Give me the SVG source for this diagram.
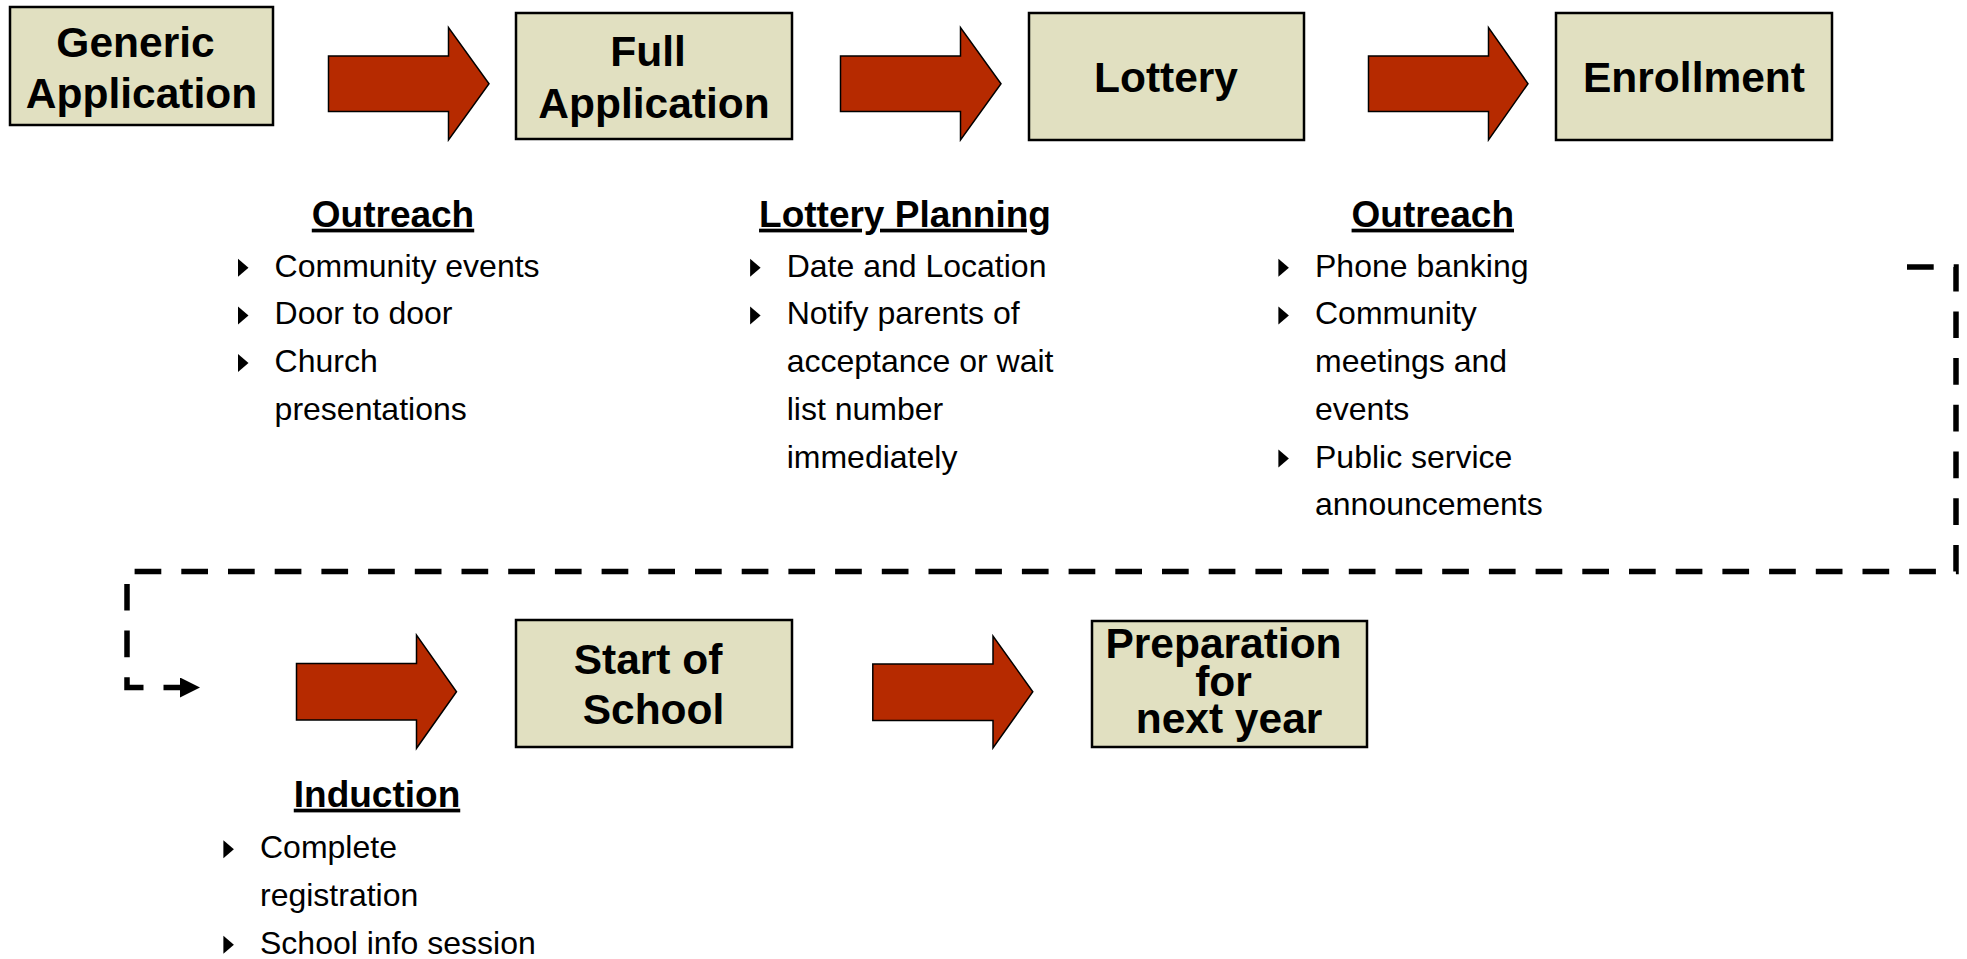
<svg xmlns="http://www.w3.org/2000/svg" width="1967" height="959" viewBox="0 0 1967 959">
  <style>
    .box { fill: #E1E0C1; stroke: #000; stroke-width: 2.5; }
    .arrow { fill: #B62A00; stroke: #000; stroke-width: 1.5; stroke-linejoin: miter; }
    .title { font-family: "Liberation Sans", Arial, sans-serif; font-weight: bold; font-size: 42.5px; fill: #000; text-anchor: middle; }
    .head { font-family: "Liberation Sans", Arial, sans-serif; font-weight: bold; font-size: 37px; fill: #000; text-anchor: middle; text-decoration: underline; }
    .item { font-family: "Liberation Sans", Arial, sans-serif; font-size: 32px; fill: #000; }
    .bullet { fill: #000; }
    .flow { fill: none; stroke: #000; stroke-width: 5.5; stroke-dasharray: 26.7 20; stroke-linejoin: miter; }
  </style>
  <defs>
    <marker id="head" markerUnits="userSpaceOnUse" markerWidth="20" markerHeight="20" refX="3" refY="10" orient="auto" viewBox="0 0 20 20">
      <path d="M0,0 L20,10 L0,20 z" fill="#000"/>
    </marker>
    <!-- list bullet, origin at the text baseline -->
    <polygon id="tri" points="-0.3,-18 10.2,-9 -0.3,0"/>
  </defs>

  <rect width="1967" height="959" fill="#fff"/>

  <!-- block arrows between the stages -->
  <g id="connectors">
    <polygon class="arrow" points="328.5,56 448.5,56 448.5,27.5 489,83.7 448.5,140 448.5,111.5 328.5,111.5"/>
    <polygon class="arrow" points="840.5,56 960.5,56 960.5,27.5 1001,83.7 960.5,140 960.5,111.5 840.5,111.5"/>
    <polygon class="arrow" points="1368.5,56 1488.5,56 1488.5,27.5 1528,83.7 1488.5,140 1488.5,111.5 1368.5,111.5"/>
    <polygon class="arrow" points="296.5,663.5 416.5,663.5 416.5,635 456.5,691.7 416.5,748.3 416.5,720 296.5,720"/>
    <polygon class="arrow" points="872.8,664 993,664 993,636 1032.8,691.7 993,748 993,720.5 872.8,720.5"/>
    <!-- dashed return path from the top row to the second row -->
    <path class="flow" d="M1907,267 H1956 V571.5 H127 V687.5 H183" marker-end="url(#head)"/>
  </g>

  <g id="generic-application">
    <rect class="box" x="10" y="7" width="263" height="118"/>
    <text class="title" x="135.5" y="57">Generic</text>
    <text class="title" x="141.5" y="108">Application</text>
  </g>

  <g id="full-application">
    <rect class="box" x="516" y="13" width="276" height="126"/>
    <text class="title" x="648" y="66">Full</text>
    <text class="title" x="654" y="118">Application</text>
  </g>

  <g id="lottery">
    <rect class="box" x="1029" y="13" width="275" height="127"/>
    <text class="title" x="1166" y="92">Lottery</text>
  </g>

  <g id="enrollment">
    <rect class="box" x="1556" y="13" width="276" height="127"/>
    <text class="title" x="1694" y="92">Enrollment</text>
  </g>

  <g id="start-of-school">
    <rect class="box" x="516" y="620" width="276" height="127"/>
    <text class="title" x="648" y="673.5">Start of</text>
    <text class="title" x="653.5" y="724">School</text>
  </g>

  <g id="preparation">
    <rect class="box" x="1092" y="621" width="275" height="126"/>
    <text class="title" x="1223.5" y="658">Preparation</text>
    <text class="title" x="1223.5" y="696">for</text>
    <text class="title" x="1229" y="733">next year</text>
  </g>

  <g id="outreach-1">
    <text class="head" x="393" y="226.7">Outreach</text>
    <use href="#tri" class="bullet" x="238.3" y="276.7"/>
    <use href="#tri" class="bullet" x="238.3" y="324.4"/>
    <use href="#tri" class="bullet" x="238.3" y="372.1"/>
    <text class="item" x="274.6" y="276.7">Community events</text>
    <text class="item" x="274.6" y="324.4">Door to door</text>
    <text class="item" x="274.6" y="372.1">Church</text>
    <text class="item" x="274.6" y="419.8">presentations</text>
  </g>

  <g id="lottery-planning">
    <text class="head" x="905" y="226.7">Lottery Planning</text>
    <use href="#tri" class="bullet" x="750.4" y="276.7"/>
    <use href="#tri" class="bullet" x="750.4" y="324.4"/>
    <text class="item" x="786.7" y="276.7">Date and Location</text>
    <text class="item" x="786.7" y="324.4">Notify parents of</text>
    <text class="item" x="786.7" y="372.1">acceptance or wait</text>
    <text class="item" x="786.7" y="419.8">list number</text>
    <text class="item" x="786.7" y="467.5">immediately</text>
  </g>

  <g id="outreach-2">
    <text class="head" x="1432.8" y="226.7">Outreach</text>
    <use href="#tri" class="bullet" x="1278.7" y="276.7"/>
    <use href="#tri" class="bullet" x="1278.7" y="324.4"/>
    <use href="#tri" class="bullet" x="1278.7" y="467.5"/>
    <text class="item" x="1315" y="276.7">Phone banking</text>
    <text class="item" x="1315" y="324.4">Community</text>
    <text class="item" x="1315" y="372.1">meetings and</text>
    <text class="item" x="1315" y="419.8">events</text>
    <text class="item" x="1315" y="467.5">Public service</text>
    <text class="item" x="1315" y="515.2">announcements</text>
  </g>

  <g id="induction">
    <text class="head" x="377" y="806.7">Induction</text>
    <use href="#tri" class="bullet" x="223.7" y="858.3"/>
    <use href="#tri" class="bullet" x="223.7" y="953.7"/>
    <text class="item" x="260" y="858.3">Complete</text>
    <text class="item" x="260" y="906">registration</text>
    <text class="item" x="260" y="953.7">School info session</text>
  </g>
</svg>
